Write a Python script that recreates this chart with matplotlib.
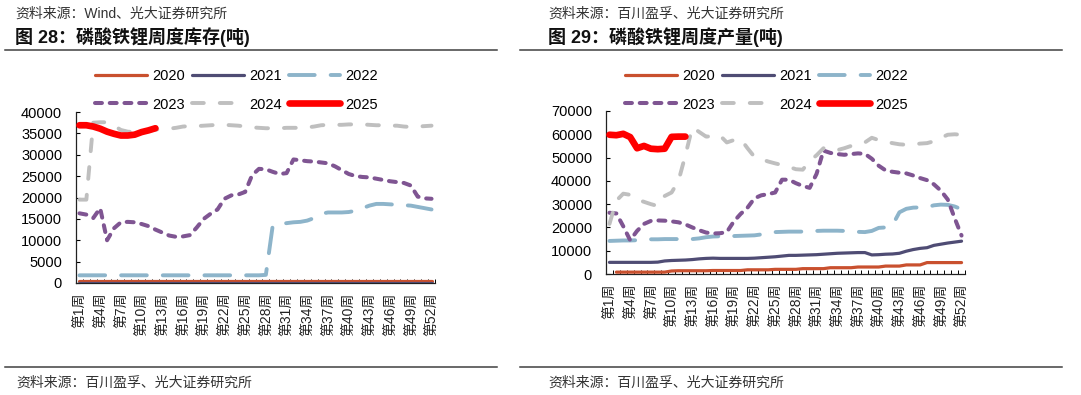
import numpy as np
import matplotlib
matplotlib.use("Agg")
import matplotlib.pyplot as plt
from matplotlib.ticker import MultipleLocator, FixedLocator

plt.rcParams['font.family'] = ['Liberation Sans', 'Noto Sans CJK SC', 'DejaVu Sans']
plt.rcParams['lines.scale_dashes'] = False

weeks = np.arange(1, 53)
tick_weeks = list(range(1, 53, 3))
tick_labels = [f"第{w}周" for w in tick_weeks]
years = ["2020", "2021", "2022", "2023", "2024", "2025"]

# ---------- Left: inventory (tons) ----------
inv_2020 = [500] * 52
inv_2021 = [60] * 52
inv_2022 = [1800] * 27 + [1900, 13500, 13800, 14000, 14200, 14300, 14600, 15200, 16200,
                          16500, 16500, 16500, 16600, 16900, 17500, 18100, 18500, 18500,
                          18400, 18300, 18200, 18100, 17800, 17500, 17200]
inv_2023 = [16300, 16000, 15200, 17500, 10000, 12800, 14200, 14300, 14200, 13800,
            13300, 12500, 11800, 11100, 10800, 10900, 11200, 13000, 15000, 16200,
            17200, 19700, 20500, 20700, 21300, 25200, 26700, 26600, 26000, 25500,
            25700, 28900, 28700, 28500, 28400, 28200, 28000, 27300, 26400, 25500,
            25000, 24800, 24700, 24400, 24100, 23800, 23600, 23400, 22800, 20200,
            19800, 19700]
inv_2024 = [19500, 19500, 37500, 37600, 37600, 36800, 35800, 35400, 35300, 35300,
            35600, 35900, 36000, 36100, 36300, 36600, 36700, 36700, 36800, 36900,
            37000, 37000, 36900, 36800, 36600, 36400, 36300, 36200, 36200, 36200,
            36300, 36300, 36300, 36400, 36600, 36900, 37000, 37000, 37000, 37100,
            37100, 37100, 37000, 36900, 36900, 36800, 36800, 36600, 36500, 36600,
            36700, 36800]
inv_2025 = [36900, 36900, 36600, 36100, 35400, 34900, 34500, 34500, 34700, 35300,
            35700, 36200] + [np.nan] * 40

# ---------- Right: output (tons) ----------
out_2020 = [np.nan] + [800] * 8 + [1300] + [1400] * 5 + [1500] * 5 + [1800] * 4 + \
           [2000] * 4 + [2300] * 4 + [2700] * 4 + [3000] * 4 + [3400] * 3 + [3900] * 3 + [4900] * 6
out_2021 = [5000, 5000, 5000, 5000, 5000, 5000, 5000, 5100, 5600, 5800,
            5900, 6000, 6200, 6500, 6700, 6800, 6700, 6700, 6700, 6700,
            6700, 6800, 7000, 7200, 7400, 7700, 8000, 8000, 8100, 8200,
            8300, 8500, 8700, 8900, 9000, 9100, 9200, 9200, 8200, 8300,
            8500, 8600, 8900, 9800, 10500, 11000, 11300, 12300, 12800, 13300,
            13700, 14100]
out_2022 = [14200, 14300, 14400, 14400, 14500, 14800, 14900, 14900, 15000, 15000,
            15000, 15000, 15000, 15300, 15800, 16100, 16200, 16300, 16300, 16400,
            16500, 16600, 17000, 17500, 18000, 18100, 18200, 18200, 18200, 18300,
            18500, 18600, 18600, 18600, 18500, 18300, 18100, 18000, 18500, 19800,
            20000, 21000, 26500, 28000, 28500, 28600, 28700, 29500, 29800, 29700,
            29000, 27800]
out_2023 = [26300, 26000, 20500, 14500, 18500, 21500, 22800, 23000, 22900, 22600,
            22200, 21300, 20000, 18800, 17800, 17400, 17500, 18000, 22500, 25800,
            28500, 32500, 33800, 34300, 35000, 40500, 40500, 39000, 37800, 37000,
            43000, 53000, 52000, 51500, 51200, 51500, 51800, 51600, 49500, 46500,
            44500, 43900, 43500, 43200, 42300, 41200, 40300, 38500, 35800, 32000,
            24000, 16500]
out_2024 = [21500, 31500, 34500, 34000, 32000, 31000, 30000, 29200, 33500, 35000,
            40000, 51000, 63000, 61000, 59000, 59200, 59500, 56500, 57500, 58000,
            54000, 50300, 49300, 48300, 47500, 46800, 46000, 45000, 44800, 48500,
            51000, 54000, 53000, 53200, 54000, 55000, 55800, 56500, 58500, 57500,
            56800, 56200, 55700, 55500, 55700, 56000, 56200, 57000, 58500, 59800,
            60000, 59800]
out_2025 = [59800, 59600, 60200, 58800, 54000, 55000, 53800, 53600, 53800, 58900,
            59000, 59000] + [np.nan] * 40

colors = {"2020": "#C9502E", "2021": "#4F4C74", "2022": "#8DB4CA",
          "2023": "#7F5592", "2024": "#BFBFBF", "2025": "#FF0000"}
styles = {
    "2020": dict(lw=2.3, ls='-'),
    "2021": dict(lw=2.3, ls='-'),
    "2022": dict(lw=2.8, ls=(0, (18.5, 11.5))),
    "2023": dict(lw=2.9, ls=(0, (5.0, 5.6))),
    "2024": dict(lw=2.8, ls=(0, (8.5, 11.5))),
    "2025": dict(lw=4.8, ls='-'),
}

W, H = 1081, 395
fig = plt.figure(figsize=(W / 100, H / 100), dpi=100)

def fx(px):
    return px / W

def fy(py):
    return 1 - py / H

def make_panel(rect, series, ymax, ystep, legend_xy):
    ax = fig.add_axes(rect)
    handles = {}
    for y, vals in zip(years, series):
        st = styles[y]
        ln, = ax.plot(weeks, vals, color=colors[y], lw=st['lw'], linestyle=st['ls'],
                      dash_capstyle='round', solid_capstyle='round',
                      zorder=3 if y != "2025" else 5, label=y)
        handles[y] = ln
    ax.set_xlim(0.5, 52.5)
    ax.set_ylim(0, ymax)
    ax.yaxis.set_major_locator(MultipleLocator(ystep))
    ax.set_yticklabels([f"{int(v)}" for v in ax.get_yticks()])
    ax.set_xticks(tick_weeks)
    ax.set_xticklabels(tick_labels, rotation=90, fontsize=10, color='#222222')
    ax.xaxis.set_minor_locator(FixedLocator(np.arange(0.5, 53, 1)))
    ax.tick_params(axis='x', which='major', length=0, pad=7)
    ax.tick_params(axis='x', which='minor', direction='in', length=3, width=0.7)
    ax.tick_params(axis='y', which='major', direction='in', length=3, width=0.8,
                   labelsize=10.5, pad=10)
    for s in ['top', 'right']:
        ax.spines[s].set_visible(False)
    for s in ['left', 'bottom']:
        ax.spines[s].set_linewidth(0.9)
        ax.spines[s].set_color('#222222')
    order = ["2020", "2023", "2021", "2024", "2022", "2025"]
    fig.legend([handles[k] for k in order], order, loc='upper left',
               bbox_to_anchor=legend_xy, ncol=3, frameon=False, fontsize=10.5,
               handlelength=3.55, handletextpad=0.35, columnspacing=0.5,
               labelspacing=1.0, borderpad=0, borderaxespad=0)
    return ax

axL = make_panel([fx(76), fy(283), fx(359), (283 - 112) / H],
                 [inv_2020, inv_2021, inv_2022, inv_2023, inv_2024, inv_2025],
                 40000, 5000, (fx(95), fy(69)))
axR = make_panel([fx(606), fy(274), fx(359), (274 - 111) / H],
                 [out_2020, out_2021, out_2022, out_2023, out_2024, out_2025],
                 70000, 10000, (fx(625), fy(69)))

# Header / footer texts
src_color = '#333333'
fig.text(fx(15), fy(14), "资料来源：Wind、光大证券研究所", fontsize=10, color=src_color, va='center')
fig.text(fx(548), fy(14), "资料来源：百川盈孚、光大证券研究所", fontsize=10, color=src_color, va='center')
fig.text(fx(15), fy(37), "图 28：磷酸铁锂周度库存(吨)", fontsize=13, fontweight='bold',
         color='#111111', va='center')
fig.text(fx(548), fy(37), "图 29：磷酸铁锂周度产量(吨)", fontsize=13, fontweight='bold',
         color='#111111', va='center')
fig.text(fx(16), fy(383), "资料来源：百川盈孚、光大证券研究所", fontsize=10, color=src_color, va='center')
fig.text(fx(548), fy(383), "资料来源：百川盈孚、光大证券研究所", fontsize=10, color=src_color, va='center')

for (x0, x1) in [(5, 497), (520, 1062)]:
    for yy in (50, 367):
        fig.add_artist(plt.Line2D([fx(x0), fx(x1)], [fy(yy), fy(yy)], color='#404040', lw=1.1))

fig.savefig("out.png", dpi=100)
